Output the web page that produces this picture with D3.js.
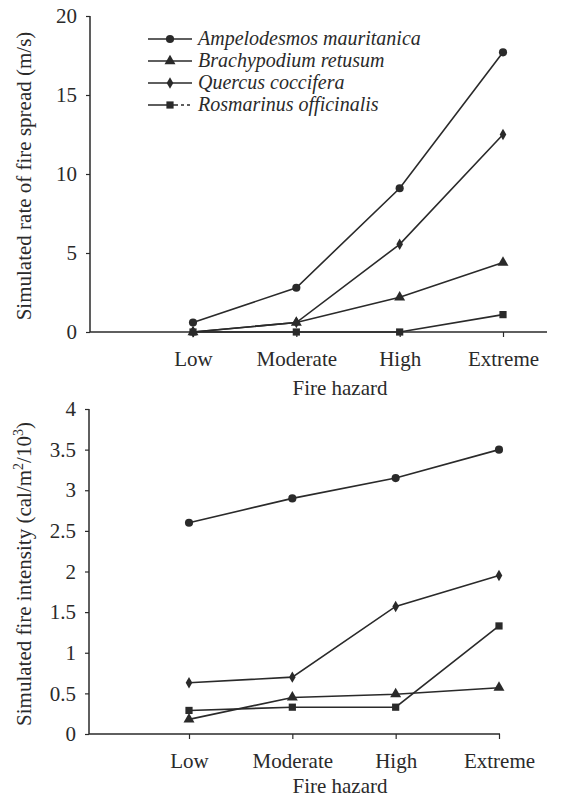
<!DOCTYPE html>
<html>
<head>
<meta charset="utf-8">
<script src="https://cdn.jsdelivr.net/npm/d3@7"></script>
<style>
body{margin:0;background:#fff;}
text{font-family:"Liberation Serif","Times New Roman",serif;fill:#2a2a2a;}
</style>
</head>
<body>
<svg id="chart" width="563" height="799"></svg>
<script>
var hazards = ["Low", "Moderate", "High", "Extreme"];
var species = ["Ampelodesmos mauritanica", "Brachypodium retusum", "Quercus coccifera", "Rosmarinus officinalis"];
var symbols = [d3.symbolCircle, d3.symbolTriangle, d3.symbolDiamond, d3.symbolSquare];

// rate of fire spread (m/s)
var spreadAmpelodesmos = [0.6, 2.8, 9.1, 17.7];
var spreadBrachypodium = [0, 0.6, 2.2, 4.4];
var spreadQuercus = [0, 0.6, 5.55, 12.5];
var spreadRosmarinus = [0, 0, 0, 1.1];

// fire intensity (cal/m2/10^3)
var intAmpelodesmos = [2.6, 2.9, 3.15, 3.5];
var intBrachypodium = [0.18, 0.45, 0.49, 0.57];
var intQuercus = [0.63, 0.7, 1.57, 1.95];
var intRosmarinus = [0.29, 0.33, 0.33, 1.33];

var spreadTicks = [0, 5, 10, 15, 20];
var intTicks = [0, 0.5, 1, 1.5, 2, 2.5, 3, 3.5, 4];

var svg = d3.select("#chart");
var ink = "#2a2a2a";
var fs = "21px";

function panel(cfg){
	var g = svg.append("g");
	var x = d3.scalePoint().domain(hazards).range(cfg.xr);
	var y = d3.scaleLinear().domain(cfg.yd).range(cfg.yr);

	// axes
	var xa = g.append("g").attr("transform", "translate(0," + cfg.yr[0] + ")")
		.call(d3.axisBottom(x).tickSize(5).tickPadding(14));
	xa.select(".domain").remove();
	xa.selectAll("text").style("font-size", fs).attr("fill", ink);
	xa.selectAll("line").attr("stroke", ink).attr("stroke-width", 1.2);
	g.append("line").attr("x1", cfg.ax).attr("x2", cfg.xEnd)
		.attr("y1", cfg.yr[0]).attr("y2", cfg.yr[0])
		.attr("stroke", ink).attr("stroke-width", 1.5);

	var ya = g.append("g").attr("transform", "translate(" + cfg.ax + ",0)")
		.call(d3.axisLeft(y).tickValues(cfg.ticks).tickSize(4).tickPadding(9).tickFormat(d3.format("~g")));
	ya.select(".domain").remove();
	ya.selectAll("text").style("font-size", fs).attr("fill", ink);
	ya.selectAll("line").attr("stroke", ink).attr("stroke-width", 1.2);
	g.append("line").attr("x1", cfg.ax).attr("x2", cfg.ax)
		.attr("y1", cfg.yr[0]).attr("y2", cfg.yr[1])
		.attr("stroke", ink).attr("stroke-width", 1.5);

	// series
	var line = d3.line().x(function(d, i){return x(hazards[i]);}).y(function(d){return y(d);});
	cfg.series.forEach(function(s, k){
		g.append("path").datum(s).attr("d", line)
			.attr("fill", "none").attr("stroke", ink).attr("stroke-width", 1.6);
		g.selectAll(null).data(s).enter().append("path")
			.attr("transform", function(d, i){return "translate(" + x(hazards[i]) + "," + y(d) + ")";})
			.attr("d", d3.symbol().type(symbols[k]).size(k == 2 ? 38 : 52))
			.attr("fill", ink);
	});

	// titles
	g.append("text").attr("x", cfg.xtx).attr("y", cfg.xty)
		.attr("text-anchor", "middle").style("font-size", fs).text("Fire hazard");
	var yt = g.append("text")
		.attr("transform", "translate(31," + cfg.ytc + ") rotate(-90)")
		.attr("text-anchor", "middle").style("font-size", fs);
	cfg.ytitle(yt);
}

panel({
	xr: [193, 503], ax: 90, xEnd: 547, yd: [0, 20], yr: [332, 16], ticks: spreadTicks,
	series: [spreadAmpelodesmos, spreadBrachypodium, spreadQuercus, spreadRosmarinus],
	xtx: 340, xty: 395, ytc: 176,
	ytitle: function(t){ t.text("Simulated rate of fire spread (m/s)"); }
});

panel({
	xr: [189, 499], ax: 89, xEnd: 500, yd: [0, 4], yr: [734, 409], ticks: intTicks,
	series: [intAmpelodesmos, intBrachypodium, intQuercus, intRosmarinus],
	xtx: 340, xty: 793, ytc: 574,
	ytitle: function(t){
		t.append("tspan").text("Simulated fire intensity (cal/m");
		t.append("tspan").attr("dy", -8).style("font-size", "14px").text("2");
		t.append("tspan").attr("dy", 8).text("/10");
		t.append("tspan").attr("dy", -8).style("font-size", "14px").text("3");
		t.append("tspan").attr("dy", 8).text(")");
	}
});

// legend
var leg = svg.append("g").selectAll("g").data(species).enter().append("g")
	.attr("transform", function(d, i){return "translate(0," + [39, 61, 83, 105][i] + ")";});
leg.append("line").attr("x1", 148).attr("x2", 192).attr("stroke", ink).attr("stroke-width", 1.6)
	.attr("stroke-dasharray", function(d, i){return i == 3 ? "30,3,3,3,3,3" : null;});
leg.append("path").attr("transform", "translate(170,0)")
	.attr("d", function(d, i){return d3.symbol().type(symbols[i]).size(i == 2 ? 38 : 52)();})
	.attr("fill", ink);
leg.append("text").attr("x", 198).attr("y", 6).style("font-size", "20px")
	.style("font-style", "italic").text(function(d){return d;});
</script>
</body>
</html>
